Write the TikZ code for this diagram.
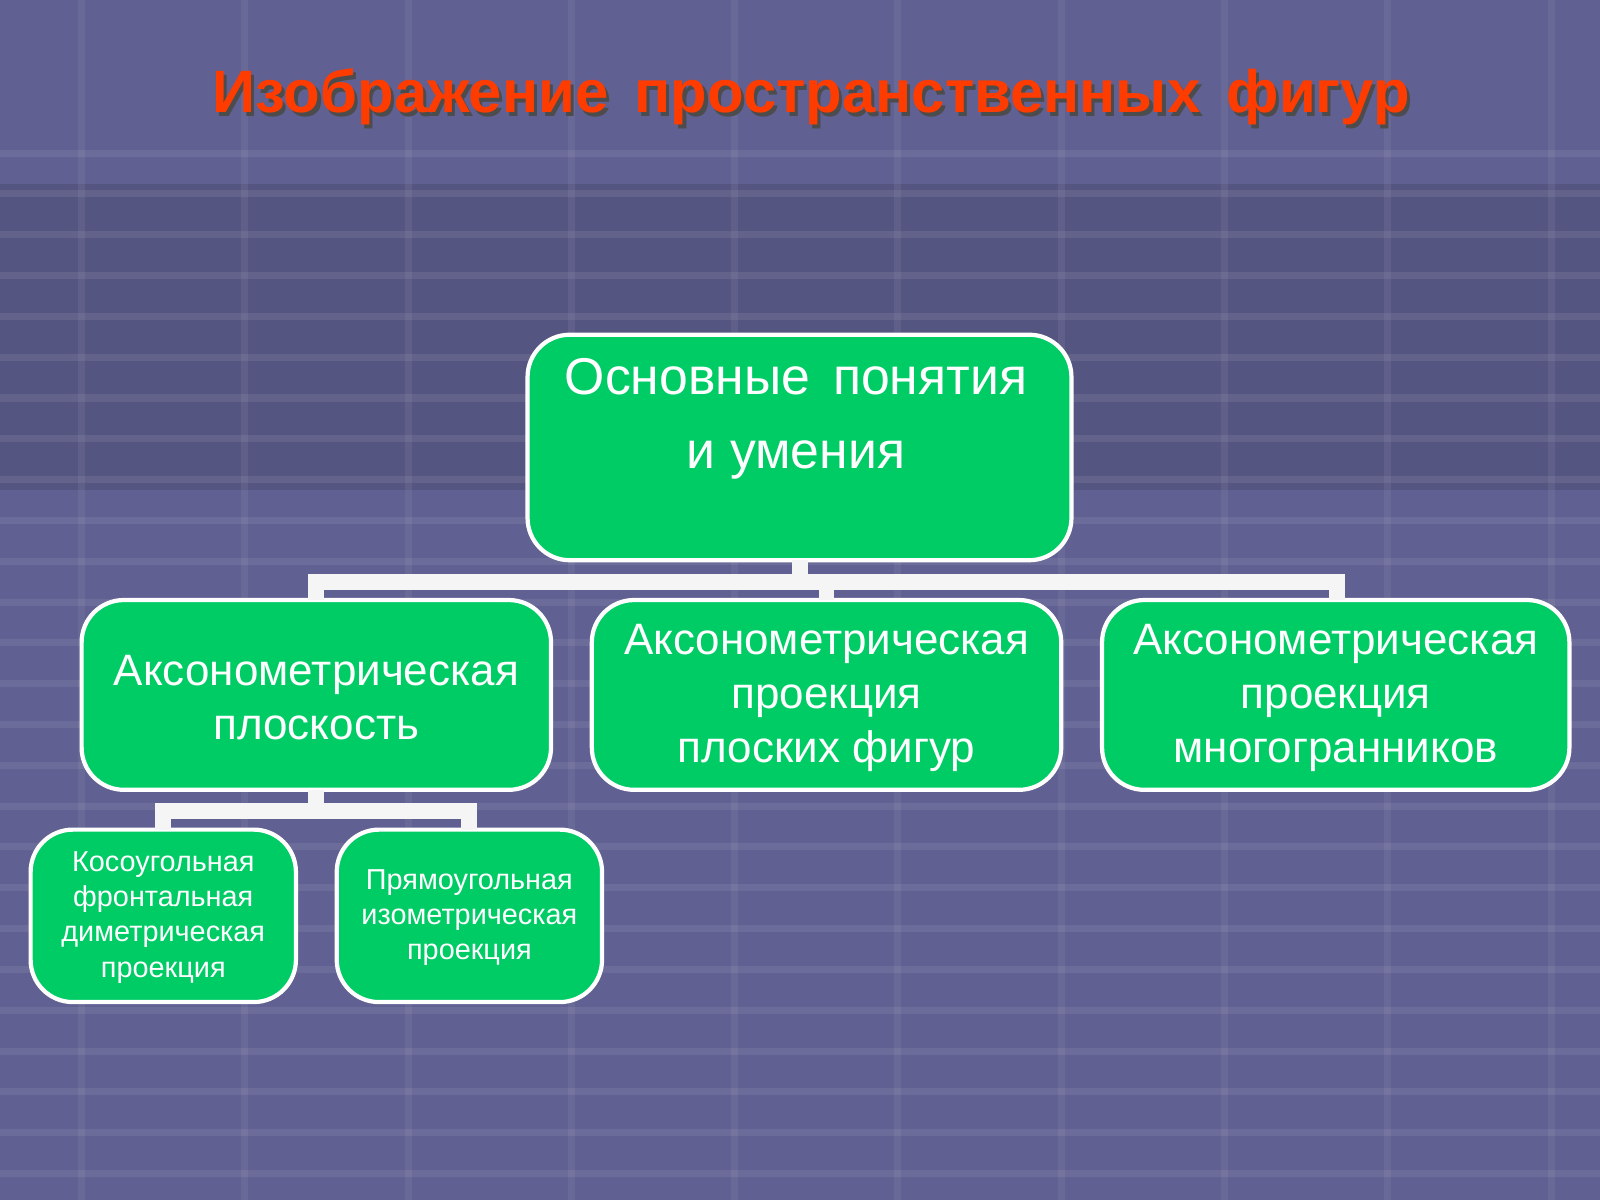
\documentclass[tikz,border=0pt]{standalone}
\usepackage{fontspec}
\setmainfont{Liberation Sans}
\usetikzlibrary{positioning}
\definecolor{bgblue}{RGB}{96,96,146}
\definecolor{boxgreen}{RGB}{0,204,102}
\definecolor{titlered}{RGB}{255,60,0}
\tikzset{
  box/.style={draw=white, line width=1.2pt, fill=boxgreen, rounded corners=12pt},
  label/.style={text=white, align=center},
  link/.style={draw=white!92!gray, line width=4.5pt}
}
\begin{document}
\begin{tikzpicture}[x=0.0102cm, y=-0.0102cm]
    % Background
    \useasboundingbox (0,0) rectangle (1568,1176);
    \fill[bgblue] (0,0) rectangle (1568,1176);
    \fill[bgblue!70!black, opacity=0.35] (0,180) rectangle (1568,480);
    \foreach \y in {150,190,...,1170}
      \draw[white, opacity=0.08, line width=2pt] (0,\y) -- (1568,\y);
    \foreach \x in {80,240,400,560,720,880,1040,1200,1360,1520}
      \draw[white, opacity=0.06, line width=2pt] (\x,0) -- (\x,1176);

    % Title
    \node[text=black!70, font=\fontsize{17}{20}\selectfont\bfseries] at (798,99) {Изображение\, пространственных\, фигур};
    \node[text=titlered, font=\fontsize{17}{20}\selectfont\bfseries] (title) at (795,95) {Изображение\, пространственных\, фигур};

    % Boxes
    \path[box] (517,328) rectangle (1050,549);
    \path[box] (80,588) rectangle (540,774);
    \path[box] (580,588) rectangle (1040,774);
    \path[box] (1080,588) rectangle (1538,774);
    \path[box] (30,813) rectangle (290,982);
    \path[box] (330,813) rectangle (590,982);

    % Texts
    \node[label, font=\fontsize{14.7}{21}\selectfont] (top) at (780,410) {Основные\, понятия\\и умения};
    \node[label, font=\fontsize{12.5}{15.4}\selectfont] (plane) at (310,684) {Аксонометрическая\\плоскость};
    \node[label, font=\fontsize{12.5}{15.4}\selectfont] (flat) at (810,684) {Аксонометрическая\\проекция\\плоских фигур};
    \node[label, font=\fontsize{12.5}{15.4}\selectfont] (poly) at (1309,684) {Аксонометрическая\\проекция\\многогранников};
    \node[label, font=\fontsize{8.2}{10}\selectfont] (oblique) at (160,899) {Косоугольная\\фронтальная\\диметрическая\\проекция};
    \node[label, font=\fontsize{8.2}{10}\selectfont] (iso) at (460,899) {Прямоугольная\\изометрическая\\проекция};

    % Edges
    \coordinate (topb) at (784,549);
    \coordinate (l2a) at (310,588);
    \coordinate (l2b) at (810,588);
    \coordinate (l2c) at (1310,588);
    \coordinate (l2p) at (310,774);
    \coordinate (l3a) at (160,813);
    \coordinate (l3b) at (460,813);
    \draw[link] (topb) -- (784,570) -- (310,570) -- (l2a);
    \draw[link] (784,570) -- (1310,570) -- (l2c);
    \draw[link] (810,570) -- (l2b);
    \draw[link] (l2p) -- (310,795) -- (160,795) -- (l3a);
    \draw[link] (310,795) -- (460,795) -- (l3b);
\end{tikzpicture}
\end{document}
